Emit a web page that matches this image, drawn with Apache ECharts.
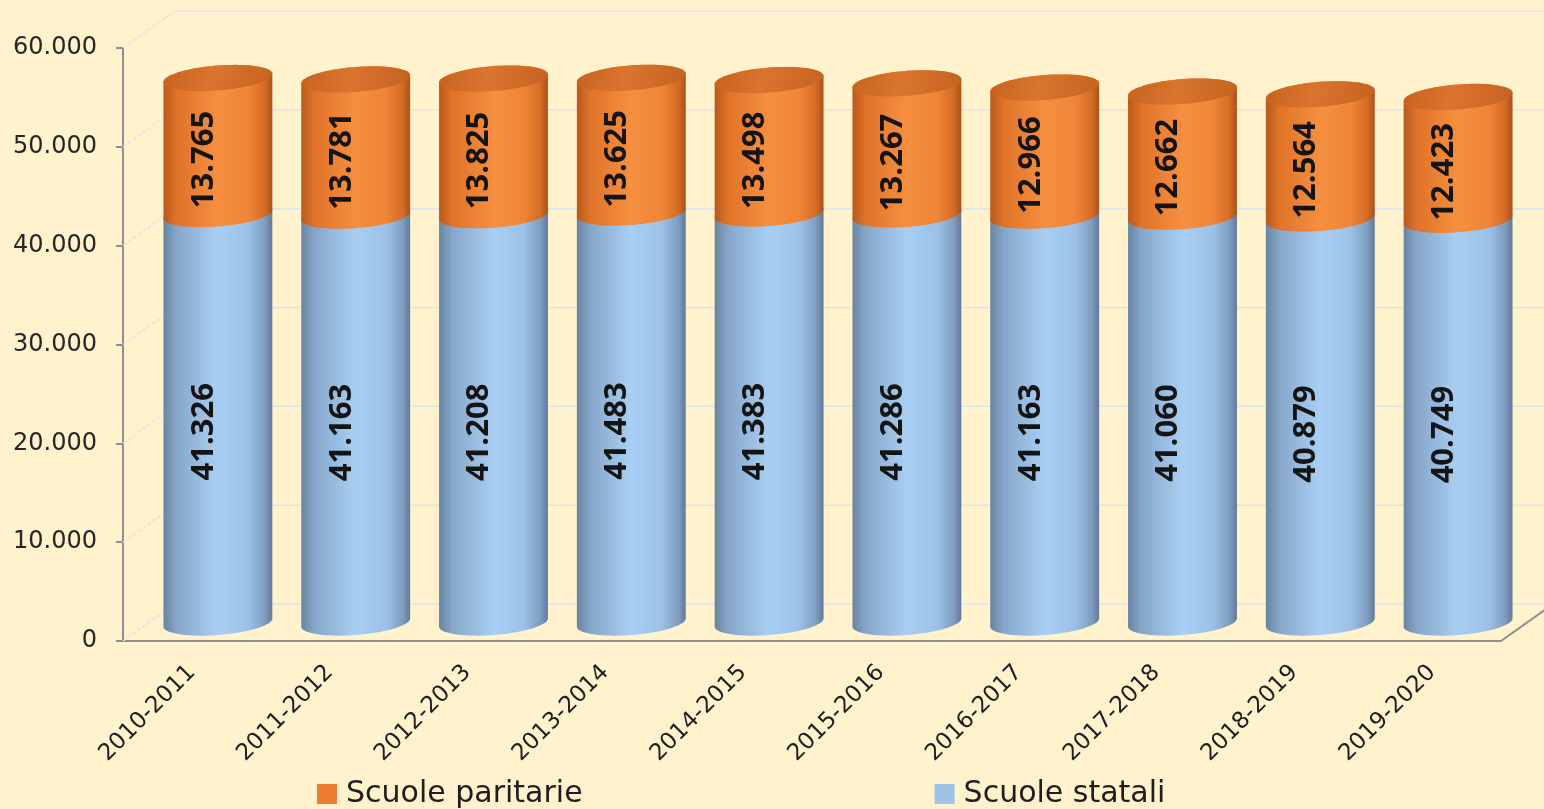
<!DOCTYPE html>
<html>
<head>
<meta charset="utf-8">
<script src="https://cdn.jsdelivr.net/npm/echarts@6/dist/echarts.min.js"></script>
<style>
  html, body { margin: 0; padding: 0; background: #FFF2CD; }
  #chart { width: 1544px; height: 809px; }
</style>
</head>
<body>
<div id="chart"></div>
<script>
// School years on the category axis
const categories = ['2010-2011', '2011-2012', '2012-2013', '2013-2014', '2014-2015',
                    '2015-2016', '2016-2017', '2017-2018', '2018-2019', '2019-2020'];
// Number of schools per year
const statali   = [41326, 41163, 41208, 41483, 41383, 41286, 41163, 41060, 40879, 40749];
const paritarie = [13765, 13781, 13825, 13625, 13498, 13267, 12966, 12662, 12564, 12423];
// Value axis ticks
const yTicks = [0, 10000, 20000, 30000, 40000, 50000, 60000];

// Depth of the pseudo-3D box (back wall offset in pixels)
const DEPTH_X = 52, DEPTH_Y = -37;
const GRID_COLOR = '#dfe3ea';
const AXIS_COLOR = '#8e8e8e';
// Slant of the cylinder ellipses (right side higher)
const SLANT = 0.075;

// Italian thousands separator
const fmt = v => String(v).replace(/\B(?=(\d{3})+(?!\d))/g, '.');

const bodyBlue = [
  { offset: 0, color: '#69849f' },
  { offset: 0.12, color: '#86a6c9' },
  { offset: 0.5, color: '#a8cff3' },
  { offset: 0.78, color: '#9cc1e7' },
  { offset: 0.93, color: '#7f9dbf' },
  { offset: 1, color: '#62799a' }
];
const bodyOrange = [
  { offset: 0, color: '#b8591a' },
  { offset: 0.12, color: '#df7329' },
  { offset: 0.5, color: '#f68f40' },
  { offset: 0.78, color: '#ef8536' },
  { offset: 0.93, color: '#d56c25' },
  { offset: 1, color: '#a95118' }
];
const capOrange = {
  type: 'linear', x: 0, y: 0, x2: 1, y2: 1,
  colorStops: [
    { offset: 0, color: '#c8631f' },
    { offset: 0.45, color: '#d9752f' },
    { offset: 1, color: '#c66220' }
  ]
};

// Points along a slanted ellipse between parameter angles t0 and t1
function arc(cx, cy, rx, ry, t0, t1, n) {
  const pts = [];
  for (let j = 0; j <= n; j++) {
    const t = t0 + (t1 - t0) * j / n;
    const c = Math.cos(t);
    pts.push([cx + rx * c, cy + ry * Math.sin(t) - SLANT * rx * c]);
  }
  return pts;
}

// One cylinder segment [category, base, top] with its value written along it
function cylinder(stops, withCap) {
  return function (params, api) {
    const i = api.value(0);
    const base = api.value(1);
    const top = api.value(2);
    const pBase = api.coord([i, base]);
    const pTop = api.coord([i, top]);
    const band = api.size([1, 0])[0];
    const rx = band * 0.395;
    const ry = 12.5;
    const cx = pBase[0] + DEPTH_X / 2;
    const yb = pBase[1] + DEPTH_Y / 2;
    const yt = pTop[1] + DEPTH_Y / 2;
    const grad = { type: 'linear', x: 0, y: 0, x2: 1, y2: 0, colorStops: stops };
    const body = arc(cx, yb, rx, ry, Math.PI, 0, 48).concat(arc(cx, yt, rx, ry, 0, -Math.PI, 48));
    const children = [
      { type: 'polygon', shape: { points: body }, style: { fill: grad } }
    ];
    if (withCap) {
      children.push({ type: 'polygon', shape: { points: arc(cx, yt, rx, ry, 0, 2 * Math.PI, 96) },
        style: { fill: capOrange } });
    }
    children.push({
      type: 'text',
      x: cx - 14,
      y: (pBase[1] + pTop[1]) / 2 - 5,
      rotation: Math.PI / 2,
      style: {
        text: fmt(top - base),
        fill: '#141414',
        font: 'bold 31px "Open Sans", sans-serif',
        align: 'center',
        verticalAlign: 'middle'
      }
    });
    return { type: 'group', children: children };
  };
}

// Back wall grid lines, floor edges
function frame(params, api) {
  const cs = params.coordSys;
  const v = api.value(1);
  const y = api.coord([0, v])[1];
  const x0 = cs.x, x1 = cs.x + cs.width;
  const children = [
    { type: 'line', shape: { x1: x0, y1: y, x2: x0 + DEPTH_X, y2: y + DEPTH_Y },
      style: { stroke: GRID_COLOR, lineWidth: 1.5, lineDash: [4, 2] } },
    { type: 'line', shape: { x1: x0 + DEPTH_X, y1: y + DEPTH_Y, x2: x1 + DEPTH_X, y2: y + DEPTH_Y },
      style: { stroke: GRID_COLOR, lineWidth: 1.5 } }
  ];
  if (v === 0) {
    children.push({ type: 'line', shape: { x1: x1, y1: y, x2: x1 + DEPTH_X, y2: y + DEPTH_Y },
      style: { stroke: AXIS_COLOR, lineWidth: 2 } });
  }
  return { type: 'group', children: children };
}

const statData = statali.map((v, i) => [i, 0, v]);
const parData = paritarie.map((v, i) => [i, statali[i], statali[i] + v]);

const chart = echarts.init(document.getElementById('chart'), null, { renderer: 'canvas' });
chart.setOption({
  backgroundColor: '#FFF2CD',
  animation: false,
  grid: { left: 123, right: 43, top: 48, bottom: 168 },
  legend: {
    data: ['Scuole paritarie', 'Scuole statali'],
    left: 312, top: 774,
    icon: 'rect', itemWidth: 20, itemHeight: 20, itemGap: 352,
    textStyle: { fontFamily: 'DejaVu Sans', fontSize: 30, color: '#1e1e1e', padding: [0, 0, 0, 4] }
  },
  xAxis: {
    type: 'category',
    data: categories,
    axisLine: { lineStyle: { color: AXIS_COLOR, width: 2 } },
    axisTick: { length: 7, lineStyle: { color: AXIS_COLOR, width: 2 } },
    axisLabel: { rotate: 45, interval: 0, margin: 28, fontFamily: 'DejaVu Sans', fontSize: 23, color: '#1e1e1e' },
    splitLine: { show: false }
  },
  yAxis: {
    type: 'value',
    min: 0, max: 60000, interval: 10000,
    axisLine: { show: true, lineStyle: { color: AXIS_COLOR, width: 2 } },
    axisTick: { show: true, length: 7, lineStyle: { color: AXIS_COLOR, width: 2 } },
    axisLabel: { margin: 26, fontFamily: 'DejaVu Sans', fontSize: 24, color: '#262626', formatter: fmt },
    splitLine: { show: false }
  },
  series: [
    {
      name: 'frame', type: 'custom', silent: true, z: 1,
      data: yTicks.map(v => [0, v]),
      encode: { x: 0, y: 1 },
      renderItem: frame
    },
    {
      name: 'Scuole statali', type: 'custom', z: 3,
      itemStyle: { color: '#9DC3E6' },
      data: statData,
      encode: { x: 0, y: [1, 2] },
      renderItem: cylinder(bodyBlue, false)
    },
    {
      name: 'Scuole paritarie', type: 'custom', z: 4,
      itemStyle: { color: '#ED7D31' },
      data: parData,
      encode: { x: 0, y: [1, 2] },
      renderItem: cylinder(bodyOrange, true)
    }
  ]
});
</script>
</body>
</html>
